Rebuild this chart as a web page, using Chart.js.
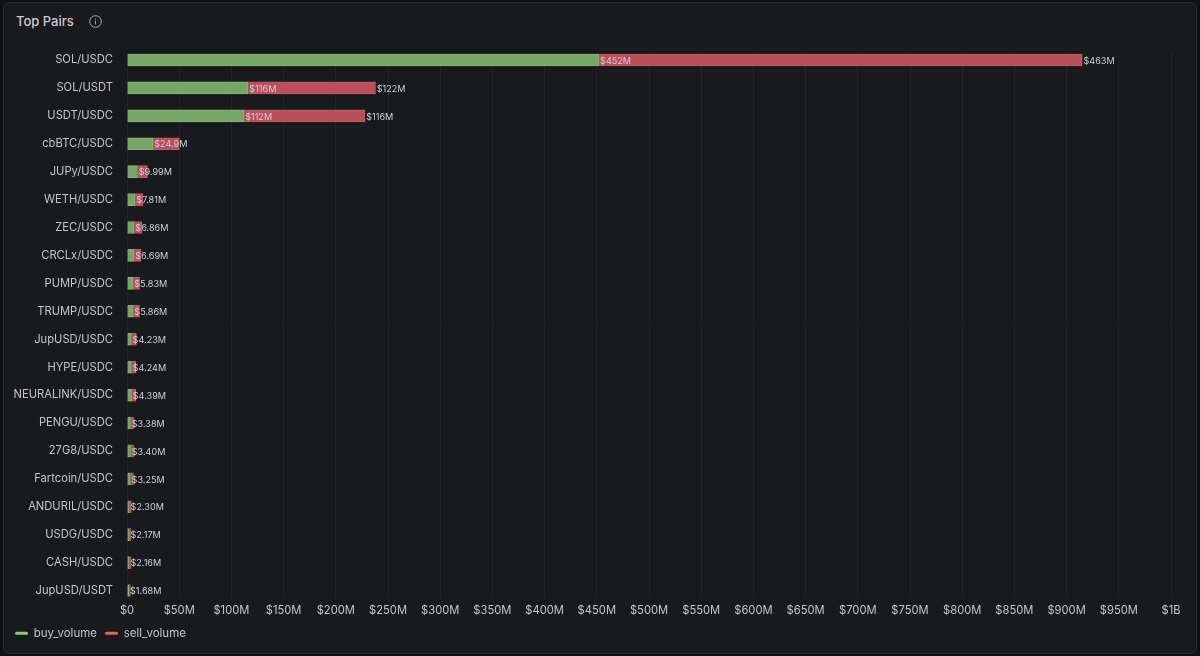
<!DOCTYPE html>
<html><head><meta charset="utf-8">
<script src="https://cdn.jsdelivr.net/npm/chart.js@4"></script>
<style>
html,body{margin:0;padding:0;background:#0f1012;width:1200px;height:656px;overflow:hidden}
#panel{position:absolute;left:3px;top:2px;width:1192px;height:650px;background:#191a1e;border:1px solid #2a2b30;border-radius:6px}
#title{position:absolute;left:16px;top:13px;font:500 13px Inter,sans-serif;color:#c9cad0}
#icon{position:absolute;left:88px;top:14px}
canvas{position:absolute;left:0;top:0}
</style></head><body>
<div id="panel"></div>
<div id="title">Top Pairs</div>
<svg id="icon" width="15" height="15" viewBox="0 0 15 15"><circle cx="7.5" cy="7.5" r="5.8" fill="none" stroke="#a9aab0" stroke-width="1"/><rect x="7" y="6.6" width="1" height="3.8" fill="#a9aab0"/><rect x="7" y="4.5" width="1" height="1" fill="#a9aab0"/></svg>
<canvas id="c" width="1200" height="656"></canvas>
<script>
const categories=["SOL/USDC","SOL/USDT","USDT/USDC","cbBTC/USDC","JUPy/USDC","WETH/USDC","ZEC/USDC","CRCLx/USDC","PUMP/USDC","TRUMP/USDC","JupUSD/USDC","HYPE/USDC","NEURALINK/USDC","PENGU/USDC","27G8/USDC","Fartcoin/USDC","ANDURIL/USDC","USDG/USDC","CASH/USDC","JupUSD/USDT"];
const buyVolume=[452,116,112,24.9,9.99,7.81,6.86,6.69,5.83,5.86,4.23,4.24,4.39,3.38,3.40,3.25,2.30,2.17,2.16,1.68];
const sellVolume=[463,122,116,25.2,9.6,7.5,7.3,6.7,6.2,6.1,4.8,4.4,4.2,2.9,2.9,2.9,1.9,1.7,1.7,1.6];
const buyLabels=["$452M","$116M","$112M","$24.9M","$9.99M","$7.81M","$6.86M","$6.69M","$5.83M","$5.86M","$4.23M","$4.24M","$4.39M","$3.38M","$3.40M","$3.25M","$2.30M","$2.17M","$2.16M","$1.68M"];
const sellLabels=["$463M","$122M","$116M",null,null,null,null,null,null,null,null,null,null,null,null,null,null,null,null,null];
const FONT="Inter, sans-serif";
const barLabels={id:'barLabels',
 beforeDatasetsDraw(ch){
  const g=ch.ctx,a=ch.chartArea;
  g.save();g.fillStyle='#191a1e';
  g.fillRect(a.left-2,a.top-1,a.width+4,8);
  g.fillRect(a.left-2,a.bottom-6,a.width+4,7);
  g.restore();
 },
 afterDatasetsDraw(ch){
  const g=ch.ctx;g.save();
  g.font='9.1px '+FONT;g.textAlign='left';g.textBaseline='middle';g.fillStyle='#cfd0d5';
  [buyLabels,sellLabels].forEach((arr,d)=>{
   ch.getDatasetMeta(d).data.forEach((el,i)=>{
    if(arr[i]) g.fillText(arr[i],el.x+1.2,el.y+1);
   });
  });
  g.restore();
 }};
new Chart(document.getElementById('c'),{
 type:'bar',
 data:{labels:categories,datasets:[
  {label:'buy_volume',data:buyVolume,backgroundColor:'#74a765',borderColor:'#86bb74',borderWidth:1,barThickness:12},
  {label:'sell_volume',data:sellVolume,backgroundColor:'#b94f5b',borderColor:'#c85966',borderWidth:1,barThickness:12}
 ]},
 plugins:[barLabels],
 options:{
  indexAxis:'y',responsive:false,animation:false,devicePixelRatio:1,
  layout:{padding:{left:7,right:29,top:46,bottom:7}},
  scales:{
   x:{stacked:true,min:0,max:1000,
      afterFit(s){s.height=15},
      ticks:{z:1,stepSize:50,autoSkip:false,maxRotation:0,color:'#c4c5cb',font:{family:FONT,size:11.2},padding:-1,
        callback:v=>v>=1000?'$1B':(v===0?'$0':'$'+v+'M')},
      grid:{color:'#232428',lineWidth:1,drawTicks:false},border:{display:false}},
   y:{stacked:true,
      afterFit(s){s.width=120},
      ticks:{color:'#c4c5cb',font:{family:FONT,size:11.2},padding:14,autoSkip:false},
      grid:{display:false,drawTicks:false},border:{display:false}}
  },
  plugins:{
   tooltip:{enabled:false},
   legend:{position:'bottom',align:'start',
     labels:{boxWidth:13,boxHeight:3,color:'#c4c5cb',font:{family:FONT,size:11.5},padding:8,
       generateLabels(ch){return ch.data.datasets.map((d,i)=>({text:d.label,fillStyle:i?'#e0636f':'#8cc97a',strokeStyle:'transparent',lineWidth:0,borderRadius:1.5,datasetIndex:i,fontColor:'#c4c5cb'}));},
       useBorderRadius:true,borderRadius:1.5}}
  }
 }
});
</script>
</body></html>
